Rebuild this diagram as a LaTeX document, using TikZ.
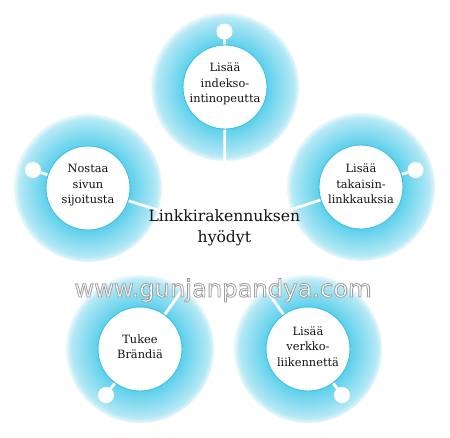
\documentclass[tikz,border=0pt]{standalone}
\usepackage{fontspec}
\setmainfont{DejaVu Serif}
\newfontfamily\wmfont{DejaVu Sans}
\usetikzlibrary{backgrounds}
\definecolor{gA}{HTML}{5ED0EB}
\definecolor{gB}{HTML}{78D8EE}
\definecolor{gC}{HTML}{98E0F2}
\definecolor{gD}{HTML}{B6E9F5}
\definecolor{gE}{HTML}{E4F6FB}
\definecolor{ringc}{HTML}{3DC0E2}
\definecolor{txt}{HTML}{141414}
\pgfdeclareradialshading{glowshade}{\pgfpoint{0bp}{0bp}}{color(0bp)=(gA); color(14.4bp)=(gA); color(17bp)=(gB); color(20.3bp)=(gC); color(23.3bp)=(gD); color(24.8bp)=(gE); color(26.3bp)=(white); color(50bp)=(white)}
\newcommand\labfont{\fontsize{11.4}{15.5}\selectfont}
\newcommand\hubfont{\fontsize{15.6}{21}\selectfont}
\newcommand\wmtext[1]{\special{pdf:literal direct 0.62 G 2 Tr 0.8 w}#1\special{pdf:literal direct 0 Tr}}
\begin{document}
\begin{tikzpicture}[x=1pt,y=-1pt,
  incircle/.style={circle, fill=white, draw=ringc, line width=0.9pt, minimum size=84pt, inner sep=0pt},
  lab/.style={align=center, font=\labfont, text=txt, inner sep=0pt},
  knob/.style={circle, fill=white, minimum size=16pt, inner sep=0pt},
  conn/.style={white, line width=2.8pt},
  glow/.style={shading=glowshade}
]
\useasboundingbox (0,0) rectangle (450,437);
% circles
\node[incircle] (c1) at (225,87) {};
\node[incircle] (c2) at (88,188) {};
\node[incircle] (c3) at (361,187) {};
\node[incircle] (c4) at (140,349) {};
\node[incircle] (c5) at (308,349) {};
% knobs
\node[knob] (k1) at (224.5,31.5) {};
\node[knob] (k2) at (33,170) {};
\node[knob] (k3) at (415.5,170) {};
\node[knob] (k4) at (106,395) {};
\node[knob] (k5) at (342,395) {};
\coordinate (hub) at (224.5,231);
% labels
\node[lab] (t1) at (225,84.3) {Lisää\\indekso-\\intinopeutta};
\node[lab] (t2) at (88,185.3) {Nostaa\\sivun\\sijoitusta};
\node[lab] (t3) at (361,184.1) {Lisää\\takaisin-\\linkkauksia};
\node[lab] (t4) at (140,346.9) {Tukee\\Brändiä};
\node[lab] (t5) at (308,346.5) {Lisää\\verkko-\\liikennettä};
\node[align=center, font=\hubfont, text=txt, inner sep=0pt] (hubtext) at (224.4,228) {Linkkirakennuksen\\hyödyt};
\node[anchor=base, font=\wmfont\fontsize{24.2}{28}\selectfont, text=white, inner sep=0pt] (wm) at (223,297) {\wmtext{www.gunjanpandya.com}};
\begin{scope}[on background layer]
\fill[white] (0,0) rectangle (450,437);
\foreach \c in {c1,c2,c3,c4,c5} \shade[glow] (\c.center) circle (74pt);
\foreach \c in {c1,c2,c3,c4,c5} \draw[conn] (hub) -- (\c);
\draw[conn] (c1) -- (k1);
\draw[conn] (c2) -- (k2);
\draw[conn] (c3) -- (k3);
\draw[conn] (c4) -- (k4);
\draw[conn] (c5) -- (k5);
\end{scope}
\end{tikzpicture}
\end{document}
